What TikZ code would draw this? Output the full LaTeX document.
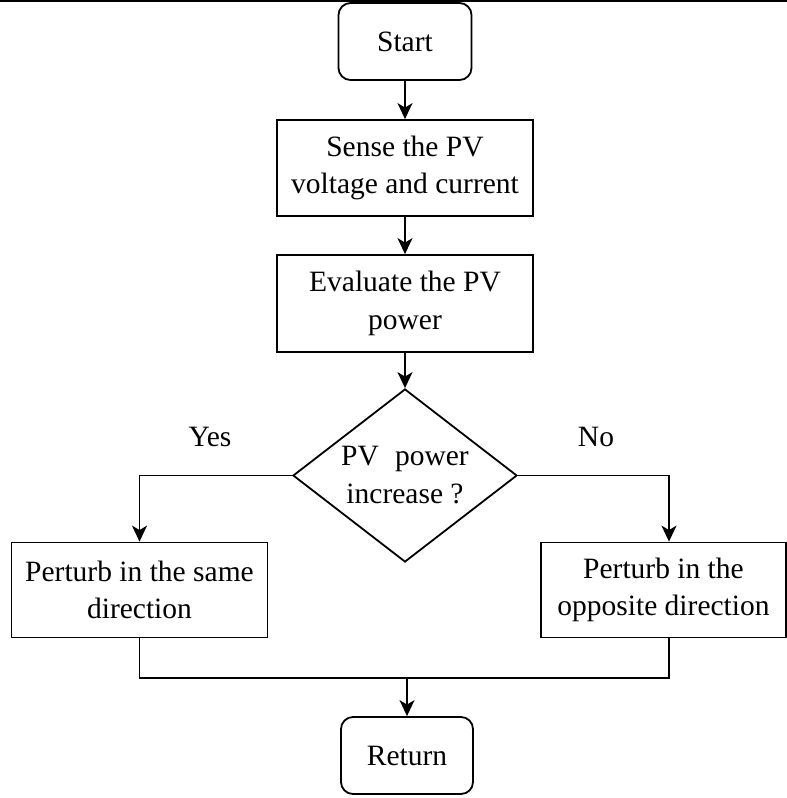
\documentclass[tikz,border=0pt]{standalone}
\usepackage{fontspec}
\setmainfont{Liberation Serif}
\usetikzlibrary{shapes.geometric,arrows.meta}
\begin{document}
\begin{tikzpicture}[x=1pt,y=-1pt,
  every node/.style={font=\fontsize{29.5}{37.5}\selectfont, inner sep=0pt, align=center},
  line/.style={line width=1.8pt},
  arr/.style={line width=1.8pt, -{Stealth[length=16pt,width=15pt,inset=4.5pt]}},
  procbox/.style={draw, line width=1.8pt, rectangle},
  termbox/.style={draw, line width=1.8pt, rectangle, rounded corners=12pt},
  decbox/.style={draw, line width=1.8pt, diamond}
]
\useasboundingbox (0,0) rectangle (787,798);
\draw[line width=2pt] (0,1) -- (787,1);

\node[termbox, minimum width=133pt, minimum height=77pt] (start) at (405,41.5) {Start};
\node[procbox, minimum width=256pt, minimum height=96pt] (sense) at (405,168) {Sense the PV\\voltage and current};
\node[procbox, minimum width=256pt, minimum height=97pt] (eval) at (405,303.5) {Evaluate the PV\\power};
\node[decbox, minimum width=224pt, minimum height=173pt] (dec) at (405,475.5) {};
\node (dectext) at (405,475) {PV\hspace{0.55em}power\\increase ?};
\node[procbox, minimum width=256pt, minimum height=95pt] (lbox) at (139.5,590) {Perturb in the same\\direction};
\node[procbox, minimum width=245pt, minimum height=95pt] (rbox) at (663.5,590) {Perturb in the\\opposite direction};
\node[termbox, minimum width=132pt, minimum height=77pt] (ret) at (407,755.5) {Return};
\node (yes) at (210,437) {Yes};
\node (no) at (596,437) {No};
\coordinate (m) at (407,678);

\draw[arr] (start) -- (sense);
\draw[arr] (sense) -- (eval);
\draw[arr] (eval) -- (dec);
\draw[arr] (dec.west) -| (lbox.north);
\draw[arr] (dec.east) -| ([xshift=5.5pt]rbox.north);
\draw[line] (lbox.south) |- (m);
\draw[line] ([xshift=5.5pt]rbox.south) |- (m);
\draw[arr] (m) -- (ret);
\end{tikzpicture}
\end{document}
